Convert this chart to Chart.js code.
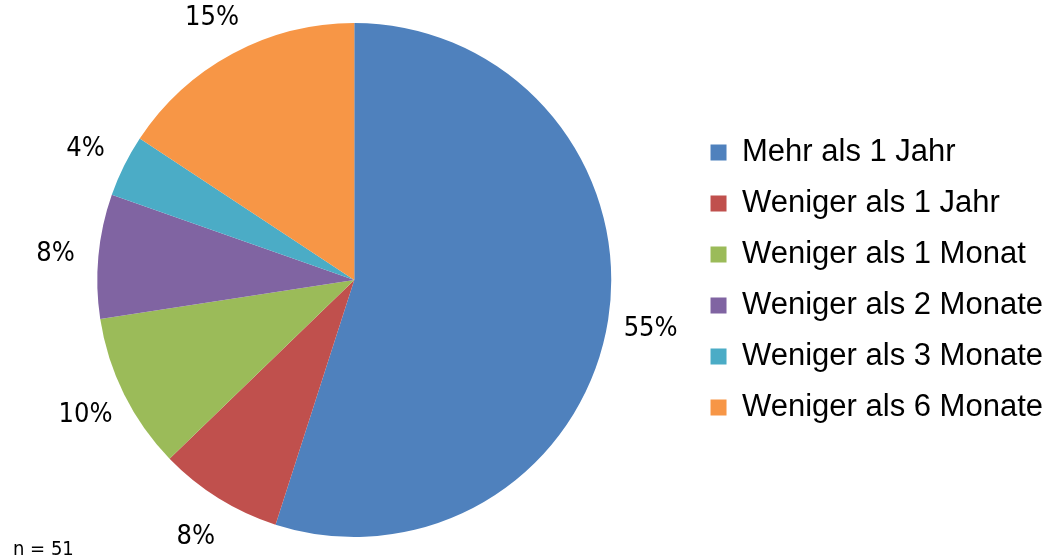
<!DOCTYPE html>
<html>
<head>
<meta charset="utf-8">
<script src="https://cdn.jsdelivr.net/npm/chart.js@4.4.0/dist/chart.umd.min.js"></script>
<style>
html,body{margin:0;padding:0;background:#fff;}
#wrap{width:1053px;height:560px;position:relative;}
</style>
</head>
<body>
<div id="wrap"><canvas id="c" width="1053" height="560"></canvas></div>
<script>
const categories = ["Mehr als 1 Jahr","Weniger als 1 Jahr","Weniger als 1 Monat","Weniger als 2 Monate","Weniger als 3 Monate","Weniger als 6 Monate"];
const values = [54.9, 7.8, 9.8, 7.8, 3.9, 15.7];
const percentLabels = ["55%", "8%", "10%", "8%", "4%", "15%"];
const colors = ["#4F81BD","#C0504D","#9BBB59","#8064A2","#4BACC6","#F79646"];
const sampleNote = "n = 51";

const labelFont = "27px 'Liberation Sans Narrow', 'DejaVu Sans Condensed', sans-serif";

const outsideLabels = {
  id: 'outsideLabels',
  afterDatasetsDraw(chart) {
    const ctx = chart.ctx;
    const meta = chart.getDatasetMeta(0);
    ctx.save();
    ctx.font = labelFont;
    ctx.fillStyle = '#000';
    ctx.textAlign = 'center';
    ctx.textBaseline = 'middle';
    meta.data.forEach((arc, i) => {
      const p = arc.getProps(['x','y','startAngle','endAngle','outerRadius'], true);
      const mid = (p.startAngle + p.endAngle) / 2;
      const r = p.outerRadius + 43;
      ctx.fillText(percentLabels[i], p.x + Math.cos(mid) * r, p.y + Math.sin(mid) * r + 2);
    });
    ctx.font = "20px 'Liberation Sans Narrow', 'DejaVu Sans Condensed', sans-serif";
    ctx.textAlign = 'left';
    ctx.fillText(sampleNote, 13, 550);
    ctx.restore();
  }
};

new Chart(document.getElementById('c'), {
  type: 'pie',
  data: {
    labels: categories,
    datasets: [{
      data: values,
      backgroundColor: colors,
      borderWidth: 0
    }]
  },
  options: {
    responsive: false,
    animation: false,
    layout: { padding: { top: 23, bottom: 23, left: 18, right: 0 } },
    plugins: {
      tooltip: { enabled: false },
      legend: {
        position: 'right',
        labels: {
          boxWidth: 16,
          boxHeight: 16,
          padding: 20,
          color: '#000',
          font: { family: "'Liberation Sans', Arial, sans-serif", size: 31 }
        }
      }
    }
  },
  plugins: [outsideLabels]
});
</script>
</body>
</html>
